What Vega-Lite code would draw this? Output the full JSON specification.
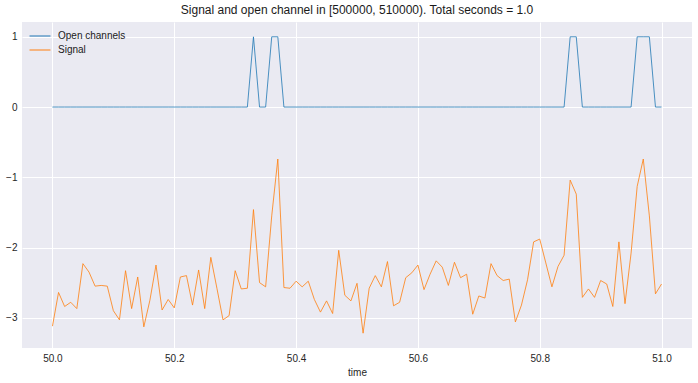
{
  "$schema": "https://vega.github.io/schema/vega-lite/v6.json",
  "width": 670,
  "height": 326,
  "autosize": {"type": "none"},
  "padding": {"left": 22, "top": 22, "right": 6, "bottom": 35},
  "title": {"text": "Signal and open channel in [500000, 510000). Total seconds = 1.0", "fontSize": 12, "fontWeight": "normal", "font": "Liberation Sans", "color": "#1a1a1a", "offset": 5},
  "data": {"values": [
    {"time": 50.00, "Open channels": 0, "Signal": -3.12},
    {"time": 50.01, "Open channels": 0, "Signal": -2.64},
    {"time": 50.02, "Open channels": 0, "Signal": -2.84},
    {"time": 50.03, "Open channels": 0, "Signal": -2.78},
    {"time": 50.04, "Open channels": 0, "Signal": -2.87},
    {"time": 50.05, "Open channels": 0, "Signal": -2.23},
    {"time": 50.06, "Open channels": 0, "Signal": -2.35},
    {"time": 50.07, "Open channels": 0, "Signal": -2.55},
    {"time": 50.08, "Open channels": 0, "Signal": -2.54},
    {"time": 50.09, "Open channels": 0, "Signal": -2.55},
    {"time": 50.10, "Open channels": 0, "Signal": -2.90},
    {"time": 50.11, "Open channels": 0, "Signal": -3.03},
    {"time": 50.12, "Open channels": 0, "Signal": -2.33},
    {"time": 50.13, "Open channels": 0, "Signal": -2.87},
    {"time": 50.14, "Open channels": 0, "Signal": -2.42},
    {"time": 50.15, "Open channels": 0, "Signal": -3.13},
    {"time": 50.16, "Open channels": 0, "Signal": -2.75},
    {"time": 50.17, "Open channels": 0, "Signal": -2.25},
    {"time": 50.18, "Open channels": 0, "Signal": -2.89},
    {"time": 50.19, "Open channels": 0, "Signal": -2.74},
    {"time": 50.20, "Open channels": 0, "Signal": -2.86},
    {"time": 50.21, "Open channels": 0, "Signal": -2.42},
    {"time": 50.22, "Open channels": 0, "Signal": -2.40},
    {"time": 50.23, "Open channels": 0, "Signal": -2.82},
    {"time": 50.24, "Open channels": 0, "Signal": -2.32},
    {"time": 50.25, "Open channels": 0, "Signal": -2.87},
    {"time": 50.26, "Open channels": 0, "Signal": -2.14},
    {"time": 50.27, "Open channels": 0, "Signal": -2.58},
    {"time": 50.28, "Open channels": 0, "Signal": -3.03},
    {"time": 50.29, "Open channels": 0, "Signal": -2.97},
    {"time": 50.30, "Open channels": 0, "Signal": -2.33},
    {"time": 50.31, "Open channels": 0, "Signal": -2.59},
    {"time": 50.32, "Open channels": 0, "Signal": -2.58},
    {"time": 50.33, "Open channels": 1, "Signal": -1.46},
    {"time": 50.34, "Open channels": 0, "Signal": -2.50},
    {"time": 50.35, "Open channels": 0, "Signal": -2.56},
    {"time": 50.36, "Open channels": 1, "Signal": -1.55},
    {"time": 50.37, "Open channels": 1, "Signal": -0.74},
    {"time": 50.38, "Open channels": 0, "Signal": -2.57},
    {"time": 50.39, "Open channels": 0, "Signal": -2.58},
    {"time": 50.40, "Open channels": 0, "Signal": -2.48},
    {"time": 50.41, "Open channels": 0, "Signal": -2.56},
    {"time": 50.42, "Open channels": 0, "Signal": -2.48},
    {"time": 50.43, "Open channels": 0, "Signal": -2.74},
    {"time": 50.44, "Open channels": 0, "Signal": -2.92},
    {"time": 50.45, "Open channels": 0, "Signal": -2.76},
    {"time": 50.46, "Open channels": 0, "Signal": -2.94},
    {"time": 50.47, "Open channels": 0, "Signal": -2.04},
    {"time": 50.48, "Open channels": 0, "Signal": -2.68},
    {"time": 50.49, "Open channels": 0, "Signal": -2.76},
    {"time": 50.50, "Open channels": 0, "Signal": -2.51},
    {"time": 50.51, "Open channels": 0, "Signal": -3.22},
    {"time": 50.52, "Open channels": 0, "Signal": -2.58},
    {"time": 50.53, "Open channels": 0, "Signal": -2.40},
    {"time": 50.54, "Open channels": 0, "Signal": -2.56},
    {"time": 50.55, "Open channels": 0, "Signal": -2.20},
    {"time": 50.56, "Open channels": 0, "Signal": -2.83},
    {"time": 50.57, "Open channels": 0, "Signal": -2.78},
    {"time": 50.58, "Open channels": 0, "Signal": -2.43},
    {"time": 50.59, "Open channels": 0, "Signal": -2.36},
    {"time": 50.60, "Open channels": 0, "Signal": -2.25},
    {"time": 50.61, "Open channels": 0, "Signal": -2.60},
    {"time": 50.62, "Open channels": 0, "Signal": -2.38},
    {"time": 50.63, "Open channels": 0, "Signal": -2.19},
    {"time": 50.64, "Open channels": 0, "Signal": -2.28},
    {"time": 50.65, "Open channels": 0, "Signal": -2.54},
    {"time": 50.66, "Open channels": 0, "Signal": -2.21},
    {"time": 50.67, "Open channels": 0, "Signal": -2.43},
    {"time": 50.68, "Open channels": 0, "Signal": -2.38},
    {"time": 50.69, "Open channels": 0, "Signal": -2.95},
    {"time": 50.70, "Open channels": 0, "Signal": -2.69},
    {"time": 50.71, "Open channels": 0, "Signal": -2.72},
    {"time": 50.72, "Open channels": 0, "Signal": -2.23},
    {"time": 50.73, "Open channels": 0, "Signal": -2.40},
    {"time": 50.74, "Open channels": 0, "Signal": -2.47},
    {"time": 50.75, "Open channels": 0, "Signal": -2.45},
    {"time": 50.76, "Open channels": 0, "Signal": -3.06},
    {"time": 50.77, "Open channels": 0, "Signal": -2.82},
    {"time": 50.78, "Open channels": 0, "Signal": -2.46},
    {"time": 50.79, "Open channels": 0, "Signal": -1.92},
    {"time": 50.80, "Open channels": 0, "Signal": -1.88},
    {"time": 50.81, "Open channels": 0, "Signal": -2.22},
    {"time": 50.82, "Open channels": 0, "Signal": -2.56},
    {"time": 50.83, "Open channels": 0, "Signal": -2.27},
    {"time": 50.84, "Open channels": 0, "Signal": -2.11},
    {"time": 50.85, "Open channels": 1, "Signal": -1.04},
    {"time": 50.86, "Open channels": 1, "Signal": -1.24},
    {"time": 50.87, "Open channels": 0, "Signal": -2.71},
    {"time": 50.88, "Open channels": 0, "Signal": -2.59},
    {"time": 50.89, "Open channels": 0, "Signal": -2.71},
    {"time": 50.90, "Open channels": 0, "Signal": -2.47},
    {"time": 50.91, "Open channels": 0, "Signal": -2.52},
    {"time": 50.92, "Open channels": 0, "Signal": -2.84},
    {"time": 50.93, "Open channels": 0, "Signal": -1.92},
    {"time": 50.94, "Open channels": 0, "Signal": -2.80},
    {"time": 50.95, "Open channels": 0, "Signal": -2.08},
    {"time": 50.96, "Open channels": 1, "Signal": -1.13},
    {"time": 50.97, "Open channels": 1, "Signal": -0.74},
    {"time": 50.98, "Open channels": 1, "Signal": -1.55},
    {"time": 50.99, "Open channels": 0, "Signal": -2.66},
    {"time": 51.00, "Open channels": 0, "Signal": -2.52}
  ]},
  "transform": [{"fold": ["Open channels", "Signal"], "as": ["series", "value"]}],
  "mark": {"type": "line", "strokeWidth": 0.8, "clip": true},
  "encoding": {
    "x": {"field": "time", "type": "quantitative",
      "scale": {"domain": [49.95, 51.05], "nice": false, "zero": false},
      "axis": {"values": [50.0, 50.2, 50.4, 50.6, 50.8, 51.0], "format": ".1f", "title": "time"}},
    "y": {"field": "value", "type": "quantitative",
      "scale": {"domain": [-3.431, 1.211], "nice": false, "zero": false},
      "axis": {"values": [-3, -2, -1, 0, 1], "format": "d", "title": null}},
    "color": {"field": "series", "type": "nominal",
      "scale": {"domain": ["Open channels", "Signal"], "range": ["#1f77b4", "#ff7f0e"]},
      "legend": {"title": null, "orient": "top-left", "offset": 7, "symbolType": "stroke", "symbolSize": 440, "symbolStrokeWidth": 1, "clipHeight": 14, "labelOffset": 7, "labelFontSize": 10, "labelFont": "Liberation Sans", "labelColor": "#1a1a1a", "rowPadding": 0, "padding": 0}}
  },
  "config": {
    "view": {"fill": "#EAEAF2", "stroke": null},
    "axis": {"domain": false, "ticks": false, "grid": true, "gridColor": "#ffffff", "gridWidth": 1, "gridOpacity": 1,
      "labelFont": "Liberation Sans", "labelFontSize": 10, "labelColor": "#262626", "labelPadding": 5,
      "titleFont": "Liberation Sans", "titleFontSize": 10, "titleFontWeight": "normal", "titleColor": "#262626", "titlePadding": 4}
  }
}
